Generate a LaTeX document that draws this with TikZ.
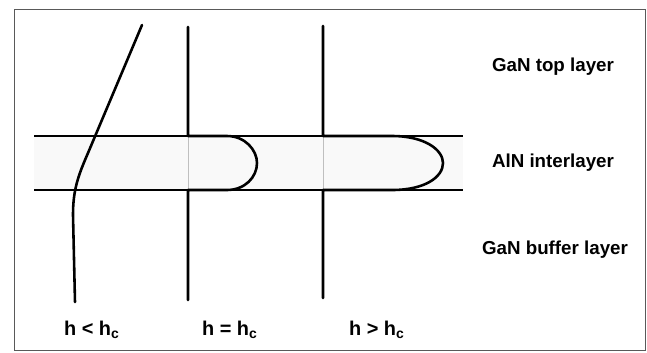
\documentclass[tikz,border=0pt]{standalone}
\usepackage{fontspec}
\setmainfont{Liberation Sans}
\usepackage{tikz}
\usetikzlibrary{positioning}
\definecolor{band}{RGB}{249,249,249}

\begin{document}
\begin{tikzpicture}[x=0.03cm, y=-0.03cm,
  dislo/.style={line width=2.2pt, line cap=round, line join=round},
  iface/.style={line width=1.1pt},
  ghost/.style={line width=0.4pt, gray!50},
  layerlab/.style={font=\fontsize{16}{19}\selectfont\bfseries},
  caselab/.style={font=\fontsize{17}{20}\selectfont\bfseries, anchor=base west}]
\useasboundingbox (0,0) rectangle (647,352);
\draw[line width=0.8pt, gray!70!black] (14,9) rectangle (645,350);
%% ---- AlN interlayer band ----
\fill[band] (34,136) rectangle (463,190);
\draw[iface] (34,136) -- (463,136);
\draw[iface] (34,190) -- (463,190);
%% ---- h < hc: line passes through ----
\draw[dislo] (142,25) -- (88,153) .. controls (78,176) and (73,190) .. (73,215) -- (75,302);
%% ---- h = hc: short loop ----
\draw[ghost] (188,136) -- (188,190);
\draw[dislo] (188,27) -- (188,136) -- (227,136)
  .. controls (245,136) and (257,150) .. (257,163)
  .. controls (257,177) and (245,190) .. (227,190) -- (188,190) -- (188,300);
%% ---- h > hc: long loop ----
\draw[ghost] (323,136) -- (323,190);
\draw[dislo] (323,26) -- (323,136) -- (392,136)
  .. controls (425,136) and (443,150) .. (443,163)
  .. controls (443,177) and (425,190) .. (392,190) -- (323,190) -- (323,298);
%% ---- labels ----
\node[layerlab] (top) at (553,67) {GaN top layer};
\node[layerlab] (inter) at (553,163) {AlN interlayer};
\node[layerlab] (buffer) at (555,250) {GaN buffer layer};
\node[caselab] (less) at (60,335) {h < h\textsubscript{c}};
\node[caselab] (equal) at (198,335) {h = h\textsubscript{c}};
\node[caselab] (more) at (345,335) {h > h\textsubscript{c}};
\end{tikzpicture}
\end{document}
